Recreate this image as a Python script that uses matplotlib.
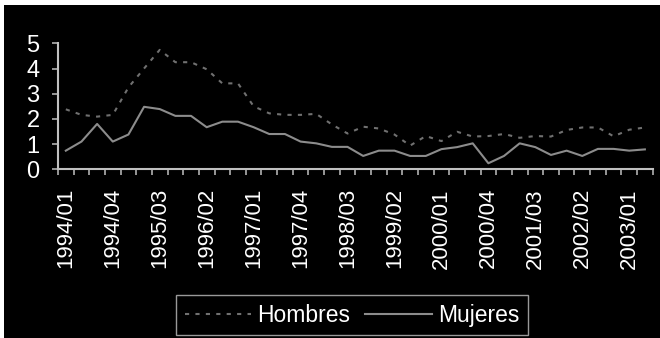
import numpy as np
import matplotlib
matplotlib.use('Agg')
import matplotlib.pyplot as plt
from matplotlib.patches import Rectangle

plt.rcParams['font.family'] = ['Liberation Sans', 'DejaVu Sans']

quarters = [f'{y}/{q:02d}' for y in range(1994, 2004) for q in range(1, 5)][:38]
tick_labels = ['1994/01', '1994/04', '1995/03', '1996/02', '1997/01', '1997/04', '1998/03',
               '1999/02', '2000/01', '2000/04', '2001/03', '2002/02', '2003/01']

hombres = [2.38, 2.16, 2.09, 2.16, 3.25, 4.0, 4.74, 4.25, 4.25, 3.97, 3.41, 3.41, 2.5,
           2.22, 2.16, 2.16, 2.2, 1.78, 1.42, 1.69, 1.62, 1.38, 0.94, 1.32, 1.12, 1.49,
           1.3, 1.32, 1.4, 1.25, 1.32, 1.3, 1.56, 1.66, 1.66, 1.31, 1.57, 1.66]
mujeres = [0.74, 1.1, 1.8, 1.1, 1.38, 2.48, 2.39, 2.12, 2.12, 1.67, 1.89, 1.89, 1.67,
           1.4, 1.4, 1.1, 1.03, 0.89, 0.89, 0.53, 0.74, 0.74, 0.53, 0.53, 0.8, 0.88,
           1.03, 0.24, 0.53, 1.03, 0.88, 0.57, 0.74, 0.53, 0.81, 0.81, 0.74, 0.79]

fig = plt.figure(figsize=(6.6, 3.38), dpi=100, facecolor='white')
fig.patches.append(Rectangle((4 / 660, 0), 1, 1 - 5 / 338, transform=fig.transFigure,
                             facecolor='black', edgecolor='none', zorder=-1))

ax = fig.add_axes([58 / 660, 1 - 169.3 / 338, (652.7 - 58) / 660, 126 / 338])
ax.set_facecolor('black')

x = np.arange(len(quarters))
ax.plot(x, hombres, color='#707070', lw=1.5, dashes=(2, 3), label='Hombres')
ax.plot(x, mujeres, color='#8c8c8c', lw=1.5, label='Mujeres')

ax.set_xlim(-0.5, len(quarters) - 0.5)
ax.set_ylim(0, 5)
ax.set_yticks(range(6))

for s in ['top', 'right']:
    ax.spines[s].set_visible(False)
for s in ['left', 'bottom']:
    ax.spines[s].set_color('#c0c0c0')
    ax.spines[s].set_linewidth(1.5)

# ticks on category boundaries, labels on category centres (pads/lengths in points)
ax.set_xticks(np.arange(len(quarters) + 1) - 0.5)
ax.set_xticklabels([])
ax.tick_params(axis='x', which='major', length=4.3, width=1.1, color='#c0c0c0', direction='out')
label_pos = [quarters.index(t) for t in tick_labels]
ax.set_xticks(label_pos, minor=True)
ax.set_xticklabels(tick_labels, minor=True, rotation=90)
ax.tick_params(axis='x', which='minor', length=0, pad=13.5, labelsize=16, labelcolor='white')
ax.tick_params(axis='y', length=4.3, width=1.1, color='#c0c0c0', pad=9,
               labelsize=17, labelcolor='white')

leg = fig.legend(loc='upper left', bbox_to_anchor=(176 / 660, 1 - 295 / 338),
                 ncol=2, fontsize=16.5, frameon=True, fancybox=False,
                 facecolor='black', edgecolor='#c0c0c0', labelcolor='white',
                 handlelength=2.9, handletextpad=0.28, columnspacing=0.65,
                 borderpad=0.38, borderaxespad=0)
leg.get_frame().set_linewidth(1.0)

fig.savefig('out.png', dpi=100, facecolor=fig.get_facecolor())
